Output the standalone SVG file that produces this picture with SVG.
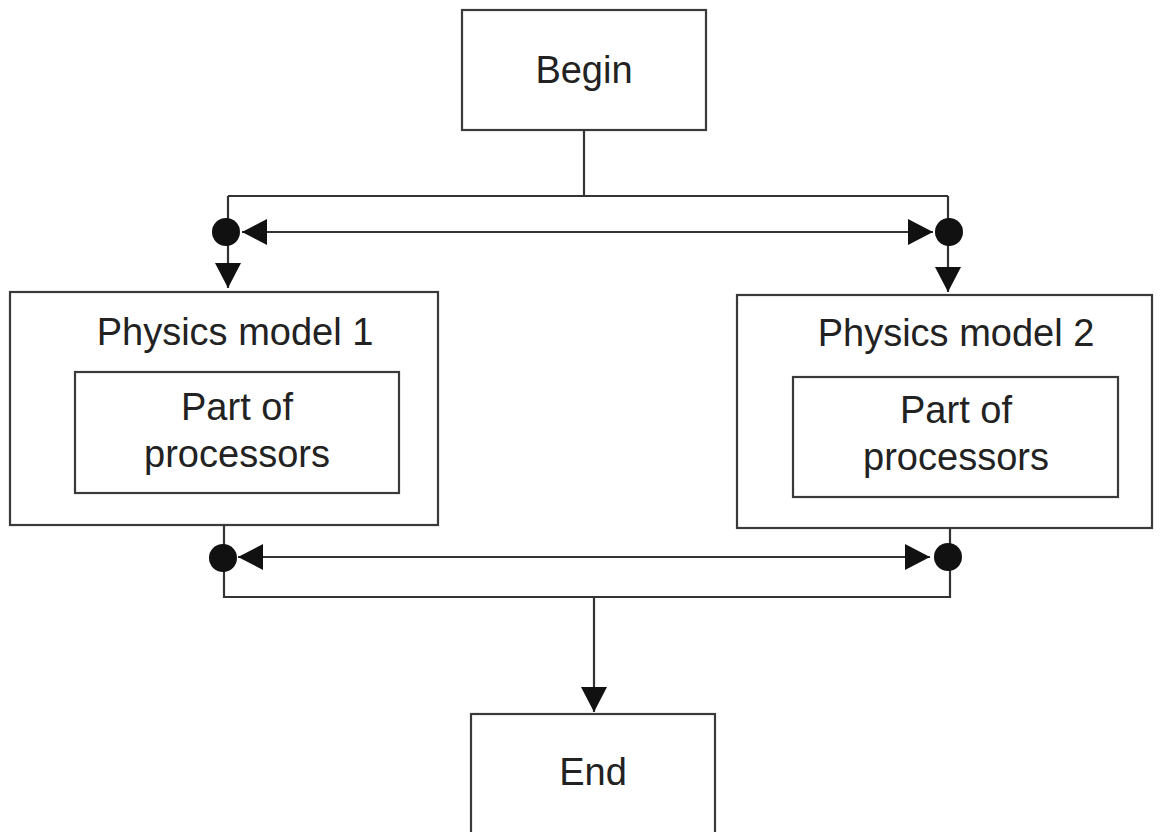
<svg xmlns="http://www.w3.org/2000/svg" width="1162" height="832" viewBox="0 0 1162 832">
  <defs>
    <marker id="arrow" viewBox="0 0 25 26" refX="25" refY="13" markerWidth="25" markerHeight="26" markerUnits="userSpaceOnUse" orient="auto-start-reverse">
      <path d="M0,0 L25,13 L0,26 Z" fill="#111"/>
    </marker>
  </defs>
  <style>
    .box { fill: #ffffff; stroke: #3a3a3a; stroke-width: 2.2; }
    .lbl { font-family: "Liberation Sans", Arial, sans-serif; font-size: 38px; fill: #222; text-anchor: middle; }
    .wire { fill: none; stroke: #333; stroke-width: 2.2; }
    .dot { fill: #111; }
  </style>
  <rect width="1162" height="832" fill="#ffffff"/>

  <g id="begin">
    <rect class="box" x="462" y="10" width="244" height="120"/>
    <text class="lbl" x="584" y="83">Begin</text>
  </g>

  <g id="physics-model-1">
    <rect class="box" x="10" y="292" width="428" height="233"/>
    <text class="lbl" x="235" y="345">Physics model 1</text>
    <g id="part-of-processors-1">
      <rect class="box" x="75" y="372" width="324" height="121"/>
      <text class="lbl" x="237" y="420">Part of</text>
      <text class="lbl" x="237" y="467">processors</text>
    </g>
  </g>

  <g id="physics-model-2">
    <rect class="box" x="737" y="295" width="415" height="233"/>
    <text class="lbl" x="956" y="346">Physics model 2</text>
    <g id="part-of-processors-2">
      <rect class="box" x="793" y="377" width="325" height="120"/>
      <text class="lbl" x="956" y="423">Part of</text>
      <text class="lbl" x="956" y="470">processors</text>
    </g>
  </g>

  <g id="end">
    <rect class="box" x="471" y="714" width="244" height="140"/>
    <text class="lbl" x="593" y="785">End</text>
  </g>

  <g id="connectors">
    <!-- fork -->
    <path class="wire" d="M584,130 V196"/>
    <path class="wire" d="M228,196 H948"/>
    <path class="wire" d="M228,196 V288" marker-end="url(#arrow)"/>
    <path class="wire" d="M948,196 V292" marker-end="url(#arrow)"/>
    <path class="wire" d="M242,232 H933" marker-start="url(#arrow)" marker-end="url(#arrow)"/>
    <circle class="dot" cx="226" cy="232" r="14"/>
    <circle class="dot" cx="949" cy="232" r="14"/>
    <!-- join -->
    <path class="wire" d="M224,525 V597 H950 V528"/>
    <path class="wire" d="M238,557 H930" marker-start="url(#arrow)" marker-end="url(#arrow)"/>
    <circle class="dot" cx="223" cy="558" r="14"/>
    <circle class="dot" cx="948" cy="557" r="14"/>
    <path class="wire" d="M594,597 V712" marker-end="url(#arrow)"/>
  </g>
</svg>
